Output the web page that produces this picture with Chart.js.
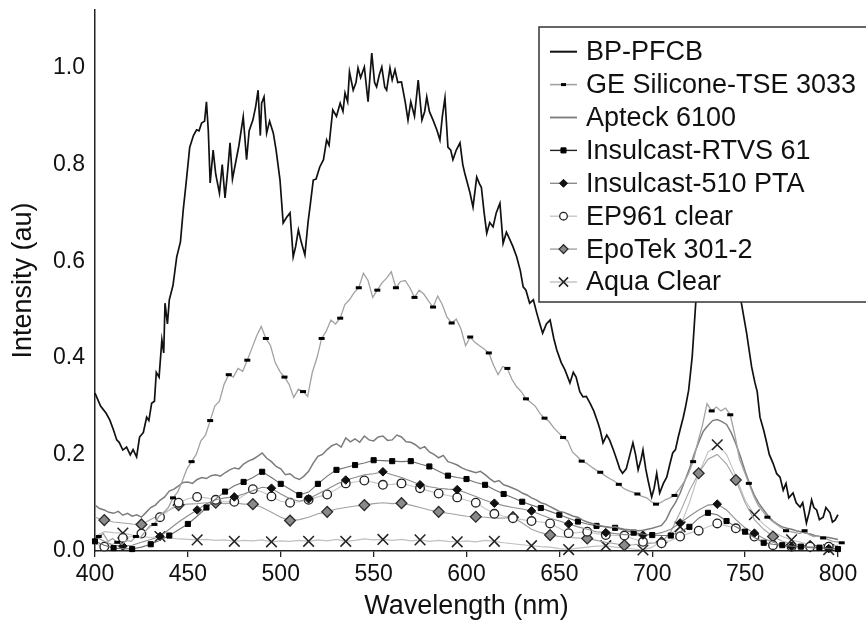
<!DOCTYPE html>
<html><head><meta charset="utf-8">
<script src="https://cdn.jsdelivr.net/npm/chart.js@4.4.1/dist/chart.umd.min.js"></script>
<style>html,body{margin:0;padding:0;background:#fff}#wrap{width:866px;height:630px}</style>
</head><body><div id="wrap"><canvas id="c" width="866" height="630"></canvas></div>
<script>
const FONT = '"Liberation Sans", Arial, Helvetica, sans-serif';

const seriesNames = ['BP-PFCB','GE Silicone-TSE 3033','Apteck 6100','Insulcast-RTVS 61','Insulcast-510 PTA','EP961 clear','EpoTek 301-2','Aqua Clear'];
const xTickLabels = ['400','450','500','550','600','650','700','750','800'];
const yTickLabels = ['0.0','0.2','0.4','0.6','0.8','1.0'];

// BP-PFCB read point by point (nm, intensity)
const bpWl = [400,403,406,408,410,411.7,413,415,417,419,420.5,422.4,424,426,427.8,429,430.5,432,433,434.5,436,437,437.7,439,440,442,444,446,447.5,449,451,453,454.7,456,457.4,459,460,461,462,463.6,465,467,468.5,470,471.5,472.7,474,476,477.5,479.8,481.6,483,485,486.5,487.8,489,489.7,491,492.4,494,496,497.5,499.6,501.3,503,505,506.7,508,509.5,511,513,514.7,516,517.5,519,521,523,524.7,526,528,530,532,533.5,534.6,536,537,539,540.5,541.6,543,545,547,549,550.5,551.6,553,554.4,556,557,558.8,560,561.5,563,565,567,568.5,570,572,574,576,577.5,578.6,580,582,584,585.7,587,588.4,590,591.5,592.7,594.5,596.5,598,599,601.9,603.5,605.5,607,608,609.5,610.9,612.5,614.3,616,618,619.7,621.5,623.4,625,627,629,630.5,632,634,636,637.8,639.5,641,643,645,647,648.6,651,653,654.5,655.7,657.5,659,661,662.7,664.5,666.5,668.5,670.8,672,673.5,675.5,677,679,681,682.5,684,686,688,689.6,691,692.4,694,695,696.5,697.7,699.7,701,702.4,704,706,707.8,709.5,711,712.5,714,716.7,718,719.6,721.5,723.4,726,730,735,740,745,748,750.8,752,753.5,755.3,756.5,758,760,761.6,763,765,767,768.8,770.5,772,773.5,775.8,777.5,779.6,781,783,784.5,785.8,787,788.5,790,792,793.5,795.7,797,798.4,800,801];
const bpInt = [0.327,0.300,0.285,0.271,0.250,0.230,0.225,0.209,0.215,0.199,0.210,0.195,0.236,0.245,0.277,0.270,0.306,0.310,0.370,0.360,0.437,0.410,0.513,0.470,0.520,0.550,0.609,0.640,0.706,0.760,0.836,0.860,0.872,0.870,0.886,0.890,0.930,0.870,0.762,0.830,0.780,0.741,0.800,0.731,0.790,0.845,0.770,0.810,0.840,0.899,0.810,0.870,0.892,0.920,0.954,0.860,0.927,0.940,0.865,0.890,0.865,0.830,0.768,0.679,0.690,0.700,0.609,0.630,0.665,0.640,0.613,0.681,0.720,0.768,0.770,0.795,0.810,0.851,0.840,0.913,0.900,0.927,0.910,0.948,0.930,0.992,0.954,0.970,1.000,0.980,1.002,0.930,1.031,0.970,0.961,0.985,1.002,0.960,0.954,1.000,0.975,0.996,0.970,0.971,0.930,0.892,0.930,0.900,0.975,0.892,0.910,0.940,0.910,0.892,0.872,0.851,0.900,0.938,0.836,0.830,0.810,0.830,0.845,0.800,0.783,0.741,0.712,0.774,0.760,0.753,0.700,0.658,0.680,0.671,0.700,0.720,0.637,0.660,0.644,0.630,0.609,0.580,0.547,0.540,0.513,0.520,0.493,0.470,0.451,0.470,0.478,0.440,0.416,0.390,0.375,0.360,0.348,0.370,0.360,0.330,0.319,0.320,0.306,0.290,0.265,0.250,0.224,0.240,0.230,0.210,0.188,0.170,0.161,0.170,0.200,0.224,0.200,0.168,0.190,0.209,0.170,0.147,0.112,0.130,0.161,0.120,0.140,0.153,0.180,0.203,0.210,0.236,0.277,0.300,0.333,0.402,0.513,0.600,0.700,0.750,0.720,0.600,0.513,0.451,0.420,0.381,0.348,0.330,0.277,0.250,0.224,0.200,0.182,0.160,0.153,0.126,0.140,0.110,0.120,0.100,0.091,0.100,0.058,0.080,0.106,0.090,0.085,0.065,0.070,0.090,0.079,0.060,0.064,0.075,0.058];

// 2.5 nm grid (Apteck 6100)
const fineWavelengths = [400,402.5,405,407.5,410,412.5,415,417.5,420,422.5,
425,427.5,430,432.5,435,437.5,440,442.5,445,447.5,
450,452.5,455,457.5,460,462.5,465,467.5,470,472.5,
475,477.5,480,482.5,485,487.5,490,492.5,495,497.5,
500,502.5,505,507.5,510,512.5,515,517.5,520,522.5,
525,527.5,530,532.5,535,537.5,540,542.5,545,547.5,
550,552.5,555,557.5,560,562.5,565,567.5,570,572.5,
575,577.5,580,582.5,585,587.5,590,592.5,595,597.5,
600,602.5,605,607.5,610,612.5,615,617.5,620,622.5,
625,627.5,630,632.5,635,637.5,640,642.5,645,647.5,
650,652.5,655,657.5,660,662.5,665,667.5,670,672.5,
675,677.5,680,682.5,685,687.5,690,692.5,695,697.5,
700,702.5,705,707.5,710,712.5,715,717.5,720,722.5,
725,727.5,730,732.5,735,737.5,740,742.5,745,747.5,
750,752.5,755,757.5,760,762.5,765,767.5,770,772.5,
775,777.5,780,782.5,785,787.5,790,792.5,795,797.5,
800];
// 2.5 nm grid (GE Silicone-TSE 3033)
const geWavelengths = [402,404.5,407,409.5,412,414.5,417,419.5,422,424.5,
427,429.5,432,434.5,437,439.5,442,444.5,447,449.5,
452,454.5,457,459.5,462,464.5,467,469.5,472,474.5,
477,479.5,482,484.5,487,489.5,492,494.5,497,499.5,
502,504.5,507,509.5,512,514.5,517,519.5,522,524.5,
527,529.5,532,534.5,537,539.5,542,544.5,547,549.5,
552,554.5,557,559.5,562,564.5,567,569.5,572,574.5,
577,579.5,582,584.5,587,589.5,592,594.5,597,599.5,
602,604.5,607,609.5,612,614.5,617,619.5,622,624.5,
627,629.5,632,634.5,637,639.5,642,644.5,647,649.5,
652,654.5,657,659.5,662,664.5,667,669.5,672,674.5,
677,679.5,682,684.5,687,689.5,692,694.5,697,699.5,
702,704.5,707,709.5,712,714.5,717,719.5,722,724.5,
727,729.5,732,734.5,737,739.5,742,744.5,747,749.5,
752,754.5,757,759.5,762,764.5,767,769.5,772,774.5,
777,779.5,782,784.5,787,789.5,792,794.5,797,799.5,
802];
// 5 nm grid (remaining series)
const wavelengths = [400,405,410,415,420,425,430,435,440,445,450,455,460,465,470,475,480,485,490,495,500,505,510,515,520,525,530,535,540,545,550,555,560,565,570,575,580,585,590,595,600,605,610,615,620,625,630,635,640,645,650,655,660,665,670,675,680,685,690,695,700,705,710,715,720,725,730,735,740,745,750,755,760,765,770,775,780,785,790,795,800];

const geSilicone = [0.030,0.036,0.020,0.026,0.018,0.014,0.022,0.020,0.030,0.028,
0.040,0.052,0.055,0.072,0.080,0.090,0.110,0.122,0.145,0.170,
0.185,0.200,0.228,0.240,0.270,0.300,0.310,0.345,0.365,0.360,
0.378,0.372,0.395,0.420,0.445,0.465,0.440,0.425,0.390,0.372,
0.360,0.345,0.318,0.335,0.330,0.320,0.370,0.400,0.440,0.455,
0.478,0.470,0.482,0.510,0.520,0.535,0.545,0.575,0.560,0.525,
0.540,0.555,0.565,0.578,0.545,0.558,0.560,0.545,0.525,0.540,
0.532,0.518,0.505,0.528,0.510,0.484,0.472,0.480,0.460,0.425,
0.443,0.432,0.425,0.418,0.410,0.385,0.365,0.382,0.378,0.355,
0.340,0.330,0.315,0.308,0.300,0.285,0.275,0.268,0.255,0.245,
0.235,0.228,0.205,0.196,0.186,0.182,0.175,0.168,0.163,0.156,
0.150,0.145,0.138,0.130,0.125,0.122,0.118,0.113,0.110,0.102,
0.097,0.100,0.106,0.110,0.115,0.128,0.142,0.160,0.185,0.225,
0.260,0.305,0.290,0.298,0.290,0.296,0.282,0.240,0.190,0.165,
0.140,0.115,0.095,0.082,0.070,0.062,0.055,0.048,0.042,0.040,
0.038,0.036,0.042,0.034,0.030,0.031,0.027,0.024,0.020,0.019,
0.017];
const apteck = [0.095,0.088,0.085,0.080,0.078,0.082,0.074,0.078,0.072,0.075,
0.070,0.080,0.090,0.095,0.105,0.112,0.124,0.128,0.135,0.142,
0.143,0.140,0.148,0.152,0.150,0.156,0.158,0.155,0.162,0.168,
0.172,0.170,0.180,0.186,0.190,0.196,0.203,0.192,0.185,0.175,
0.170,0.158,0.160,0.152,0.148,0.155,0.165,0.182,0.196,0.200,
0.210,0.218,0.222,0.215,0.234,0.226,0.232,0.225,0.238,0.230,
0.228,0.236,0.238,0.229,0.230,0.240,0.236,0.226,0.225,0.220,
0.212,0.216,0.205,0.200,0.193,0.198,0.185,0.182,0.178,0.172,
0.168,0.165,0.162,0.165,0.158,0.150,0.143,0.146,0.137,0.134,
0.130,0.126,0.120,0.116,0.110,0.106,0.100,0.097,0.092,0.087,
0.082,0.080,0.076,0.072,0.070,0.064,0.060,0.057,0.054,0.052,
0.050,0.048,0.050,0.047,0.045,0.044,0.043,0.042,0.043,0.045,
0.047,0.050,0.053,0.065,0.085,0.100,0.120,0.145,0.170,0.200,
0.225,0.248,0.260,0.270,0.272,0.268,0.262,0.245,0.222,0.195,
0.165,0.138,0.115,0.098,0.085,0.072,0.062,0.055,0.050,0.047,
0.045,0.042,0.040,0.037,0.035,0.032,0.030,0.029,0.028,0.026,
0.024];
const rtvs61 = [0.020,0.012,0.006,0.005,0.004,0.008,0.014,0.022,0.032,0.044,
0.056,0.072,0.090,0.108,0.123,0.135,0.143,0.152,0.164,0.152,
0.139,0.128,0.116,0.122,0.139,0.155,0.168,0.173,0.178,0.182,
0.188,0.187,0.186,0.185,0.186,0.180,0.175,0.165,0.156,0.152,
0.149,0.142,0.137,0.127,0.118,0.110,0.102,0.095,0.089,0.082,
0.075,0.068,0.061,0.056,0.052,0.050,0.048,0.043,0.038,0.035,
0.033,0.032,0.032,0.040,0.050,0.068,0.079,0.075,0.062,0.050,
0.040,0.028,0.017,0.014,0.012,0.010,0.009,0.008,0.007,0.005,
0.004];
const pta510 = [0.030,0.020,0.012,0.010,0.012,0.018,0.024,0.030,0.045,0.060,
0.073,0.085,0.098,0.106,0.110,0.112,0.118,0.125,0.132,0.130,
0.118,0.108,0.103,0.108,0.118,0.128,0.138,0.147,0.152,0.158,
0.160,0.164,0.158,0.152,0.145,0.137,0.133,0.130,0.128,0.127,
0.120,0.113,0.105,0.099,0.094,0.090,0.087,0.083,0.075,0.068,
0.062,0.056,0.050,0.045,0.040,0.038,0.036,0.034,0.034,0.033,
0.034,0.038,0.045,0.058,0.072,0.085,0.095,0.097,0.085,0.065,
0.048,0.037,0.026,0.018,0.012,0.009,0.008,0.007,0.006,0.005,
0.005];
const ep961 = [0.015,0.009,0.015,0.027,0.030,0.036,0.050,0.070,0.085,0.100,
0.108,0.112,0.110,0.106,0.102,0.102,0.115,0.128,0.122,0.113,
0.103,0.100,0.102,0.106,0.112,0.117,0.128,0.140,0.143,0.146,
0.142,0.137,0.138,0.140,0.135,0.130,0.124,0.119,0.115,0.111,
0.105,0.100,0.088,0.077,0.072,0.068,0.065,0.062,0.060,0.057,
0.047,0.037,0.038,0.040,0.036,0.033,0.032,0.032,0.025,0.019,
0.017,0.016,0.022,0.030,0.037,0.042,0.050,0.057,0.052,0.047,
0.038,0.030,0.020,0.012,0.010,0.009,0.009,0.009,0.009,0.009,
0.009];
const epotek = [0.070,0.064,0.060,0.058,0.056,0.055,0.065,0.075,0.085,0.095,
0.097,0.098,0.100,0.100,0.098,0.100,0.097,0.097,0.090,0.080,
0.070,0.063,0.065,0.070,0.077,0.081,0.087,0.090,0.093,0.095,
0.098,0.100,0.098,0.099,0.095,0.090,0.085,0.081,0.078,0.075,
0.072,0.071,0.070,0.068,0.068,0.070,0.058,0.045,0.038,0.033,
0.030,0.028,0.027,0.026,0.022,0.018,0.015,0.012,0.013,0.015,
0.016,0.018,0.040,0.080,0.125,0.161,0.190,0.200,0.180,0.147,
0.100,0.065,0.045,0.030,0.020,0.015,0.012,0.010,0.010,0.011,
0.012];
const aquaClear = [0.030,0.040,0.038,0.037,0.033,0.030,0.028,0.030,0.027,0.025,
0.024,0.023,0.024,0.022,0.023,0.020,0.022,0.021,0.023,0.019,
0.021,0.020,0.022,0.020,0.023,0.021,0.024,0.020,0.022,0.025,
0.023,0.024,0.022,0.024,0.021,0.023,0.020,0.022,0.020,0.019,
0.021,0.019,0.022,0.020,0.017,0.015,0.013,0.011,0.009,0.008,
0.005,0.003,0.006,0.008,0.010,0.011,0.008,0.006,0.004,0.002,
0.008,0.020,0.035,0.050,0.100,0.160,0.205,0.220,0.200,0.155,
0.105,0.075,0.055,0.040,0.030,0.023,0.018,0.012,0.008,0.003,
0.005];

function pts(xs, ys) { return xs.map((x, i) => ({ x: x, y: ys[i] })); }
function marks(step, phase, r) {
  return c => { const p = c.raw; if (!p) return 0; const d = p.x - phase; return (d >= 0 && d % step === 0) ? r : 0; };
}

const base = { fill: false, tension: 0, clip: false, pointHoverRadius: 0 };
const datasets = [
  Object.assign({}, base, { label: seriesNames[0], data: pts(bpWl, bpInt), borderColor: '#111', borderWidth: 1.7, pointRadius: 0 }),
  Object.assign({}, base, { label: seriesNames[1], data: pts(geWavelengths, geSilicone), borderColor: '#a2a2a2', borderWidth: 1.3,
    pointStyle: 'line', pointRadius: marks(10, 402, 3), pointBorderColor: '#000', pointBackgroundColor: '#000', pointBorderWidth: 3, legendMarker: 2.5 }),
  Object.assign({}, base, { label: seriesNames[2], data: pts(fineWavelengths, apteck), borderColor: '#7c7c7c', borderWidth: 1.5, pointRadius: 0 }),
  Object.assign({}, base, { label: seriesNames[3], data: pts(wavelengths, rtvs61), borderColor: '#707070', borderWidth: 1.1,
    pointStyle: 'rect', pointRadius: marks(10, 400, 3.6), pointBorderColor: '#000', pointBackgroundColor: '#000', pointBorderWidth: 1, legendMarker: 3.6, legendLine: '#222' }),
  Object.assign({}, base, { label: seriesNames[4], data: pts(wavelengths, pta510), borderColor: '#8c8c8c', borderWidth: 1.1,
    pointStyle: 'rectRot', pointRadius: marks(20, 415, 4.3), pointBorderColor: '#111', pointBackgroundColor: '#111', pointBorderWidth: 1, legendMarker: 4 }),
  Object.assign({}, base, { label: seriesNames[5], data: pts(wavelengths, ep961), borderColor: '#c6c6c6', borderWidth: 1.1,
    pointStyle: 'circle', pointRadius: marks(10, 405, 4.3), pointBorderColor: '#222', pointBackgroundColor: '#fff', pointBorderWidth: 1.3, legendMarker: 3.8 }),
  Object.assign({}, base, { label: seriesNames[6], data: pts(wavelengths, epotek), borderColor: '#a2a2a2', borderWidth: 1.1,
    pointStyle: 'rectRot', pointRadius: marks(20, 405, 5.4), pointBorderColor: '#2a2a2a', pointBackgroundColor: '#8a8a8a', pointBorderWidth: 1.3, legendMarker: 4.4 }),
  Object.assign({}, base, { label: seriesNames[7], data: pts(wavelengths, aquaClear), borderColor: '#c0c0c0', borderWidth: 1.1,
    pointStyle: 'crossRot', pointRadius: marks(20, 415, 7.5), pointBorderColor: '#222', pointBackgroundColor: '#222', pointBorderWidth: 1.5, legendMarker: 6.5 })
];

const boxLegend = {
  id: 'boxLegend',
  afterDraw(chart) {
    const ctx = chart.ctx;
    ctx.save();
    const bx = 539, by = 27, bw = 332, bh = 275;
    ctx.fillStyle = '#fff'; ctx.fillRect(bx, by, bw, bh);
    ctx.strokeStyle = '#333'; ctx.lineWidth = 1.5; ctx.strokeRect(bx, by, bw, bh);
    chart.data.datasets.forEach((ds, i) => {
      const y = 51.7 + i * 32.9;
      ctx.strokeStyle = ds.legendLine || ds.borderColor; ctx.lineWidth = ds.borderWidth + 0.3;
      ctx.beginPath(); ctx.moveTo(550, y); ctx.lineTo(577, y); ctx.stroke();
      if (ds.legendMarker) {
        ctx.fillStyle = ds.pointBackgroundColor; ctx.strokeStyle = ds.pointBorderColor; ctx.lineWidth = ds.pointBorderWidth;
        Chart.helpers.drawPoint(ctx, { pointStyle: ds.pointStyle, radius: ds.legendMarker, borderWidth: ds.pointBorderWidth, rotation: 0 }, 563.5, y);
      }
      ctx.fillStyle = '#111'; ctx.font = '27px ' + FONT; ctx.textBaseline = 'middle'; ctx.textAlign = 'left';
      ctx.fillText(ds.label, 586, y + 1);
    });
    ctx.restore();
  }
};

new Chart(document.getElementById('c'), {
  type: 'line',
  data: { datasets: datasets },
  plugins: [boxLegend],
  options: {
    responsive: false, animation: false, events: [],
    layout: { padding: { top: 10, right: 28, left: 0, bottom: 0 } },
    plugins: { legend: { display: false }, tooltip: { enabled: false } },
    scales: {
      x: {
        type: 'linear', min: 400, max: 800,
        afterFit(s) { s.height = 79; s.paddingLeft = 0; s.paddingRight = 0; },
        ticks: { stepSize: 50, autoSkip: false, maxRotation: 0, color: '#111', padding: 4,
          font: { size: 23, family: FONT },
          callback: (v) => xTickLabels.includes(String(v)) ? String(v) : '' },
        grid: { drawOnChartArea: false, drawTicks: true, tickLength: 6, color: '#222', lineWidth: 1.3 },
        border: { display: true, color: '#222', width: 1.5 },
        title: { display: true, text: 'Wavelength (nm)', color: '#111', font: { size: 27, family: FONT }, padding: { top: 0, bottom: 7 } }
      },
      y: {
        type: 'linear', min: 0, max: 1.12,
        afterFit(s) { s.width = 95; s.paddingTop = 0; s.paddingBottom = 0; },
        afterBuildTicks(s) { s.ticks = s.ticks.filter(t => Math.abs(t.value * 5 - Math.round(t.value * 5)) < 1e-6); },
        ticks: { stepSize: 0.2, color: '#111', padding: 10, font: { size: 23, family: FONT },
          callback: (v) => yTickLabels[Math.round(v * 5)] },
        grid: { display: false, drawTicks: false },
        border: { display: true, color: '#222', width: 1.5 },
        title: { display: true, text: 'Intensity (au)', color: '#111', font: { size: 27, family: FONT }, padding: { top: 7, bottom: 0 } }
      }
    }
  }
});
</script></body></html>
